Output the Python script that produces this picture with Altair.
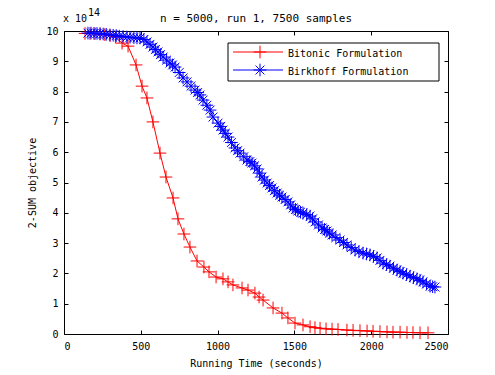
import altair as alt
import pandas as pd

# Bitonic Formulation (time in seconds, objective in units of 1e14)
red_t = [137, 169, 202, 234, 266, 300, 335, 378, 417, 469, 508, 540, 579, 625, 664,
         710, 742, 781, 820, 866, 911, 944, 990, 1035, 1068, 1100, 1159, 1198, 1243,
         1270, 1296, 1361, 1419, 1458, 1504, 1556, 1602, 1634, 1667, 1706, 1745, 1784,
         1842, 1882, 1927, 1973, 2012, 2057, 2103, 2142, 2188, 2233, 2272, 2318, 2370]
red_v = [9.92, 9.92, 9.91, 9.9, 9.88, 9.85, 9.8, 9.6, 9.5, 8.88, 8.18, 7.79, 7.0, 5.97, 5.18,
         4.49, 3.80, 3.30, 2.87, 2.41, 2.21, 2.05, 1.88, 1.82, 1.72, 1.62, 1.52, 1.45, 1.35,
         1.22, 1.12, 0.86, 0.69, 0.53, 0.36, 0.30, 0.24, 0.21, 0.19, 0.17, 0.16, 0.15,
         0.13, 0.12, 0.11, 0.10, 0.09, 0.08, 0.07, 0.06, 0.06, 0.05, 0.05, 0.04, 0.04]

# Birkhoff Formulation
blue_t = [156, 176, 195, 215, 235, 255, 275, 299, 320, 340, 360, 385, 410, 430, 455, 475,
          495, 520, 540, 560, 579, 595, 612, 628, 645, 668, 690, 707, 723, 750, 775, 801,
          827, 853, 870, 885, 905, 930, 951, 970, 1003, 1020, 1035, 1050, 1068, 1090, 1113,
          1130, 1146, 1170, 1191, 1210, 1224, 1240, 1257, 1273, 1289, 1305, 1322, 1338,
          1354, 1370, 1387, 1403, 1419, 1440, 1458, 1475, 1491, 1507, 1523, 1540, 1556,
          1580, 1602, 1618, 1634, 1657, 1680, 1696, 1712, 1728, 1745, 1770, 1797, 1820,
          1842, 1870, 1895, 1920, 1947, 1970, 1992, 2015, 2038, 2057, 2077, 2100, 2122,
          2145, 2168, 2188, 2207, 2230, 2253, 2275, 2298, 2318, 2337, 2360, 2383, 2400, 2415]
blue_v = [9.93, 9.93, 9.92, 9.92, 9.91, 9.9, 9.89, 9.87, 9.86, 9.85, 9.83, 9.82, 9.80, 9.79,
          9.78, 9.77, 9.77, 9.72, 9.64, 9.56, 9.47, 9.39, 9.31, 9.22, 9.14, 9.04, 8.94, 8.88,
          8.81, 8.63, 8.45, 8.32, 8.18, 8.05, 7.97, 7.89, 7.72, 7.55, 7.39, 7.16, 6.96, 6.85,
          6.73, 6.62, 6.50, 6.32, 6.14, 6.05, 5.97, 5.85, 5.74, 5.69, 5.64, 5.55, 5.45, 5.31,
          5.18, 5.08, 4.98, 4.90, 4.82, 4.73, 4.65, 4.58, 4.52, 4.44, 4.36, 4.26, 4.16, 4.11,
          4.06, 4.02, 3.99, 3.94, 3.89, 3.80, 3.70, 3.60, 3.50, 3.45, 3.40, 3.33, 3.27, 3.18,
          3.10, 3.02, 2.94, 2.85, 2.77, 2.72, 2.67, 2.64, 2.61, 2.56, 2.51, 2.43, 2.34, 2.29,
          2.24, 2.17, 2.11, 2.06, 2.01, 1.96, 1.91, 1.86, 1.82, 1.77, 1.72, 1.65, 1.58, 1.56,
          1.55]

x_ticks = [0, 500, 1000, 1500, 2000, 2500]
y_ticks = list(range(0, 11))
series_names = ["Bitonic Formulation", "Birkhoff Formulation"]
title_text = "n = 5000, run 1, 7500 samples"
x_title = "Running Time (seconds)"
y_title = "2-SUM objective"

W, H = 384, 303
FONT = "DejaVu Sans Mono"
PLUS = "M-1,0L1,0M0,-1L0,1"
STAR = "M-1,0L1,0M0,-1L0,1M-0.7,-0.7L0.7,0.7M-0.7,0.7L0.7,-0.7"
MSIZE = 160

red_df = pd.DataFrame({"t": red_t, "v": red_v})
blue_df = pd.DataFrame({"t": blue_t, "v": blue_v})
one = pd.DataFrame({"a": [0]})

xs = alt.Scale(domain=[0, 2500], nice=False, zero=False)
ys = alt.Scale(domain=[0, 10], nice=False, zero=False)

ax_bottom = alt.Axis(orient="bottom", values=x_ticks, format="d", ticks=False, domain=False,
                     grid=False, labelFont=FONT, labelFontSize=10, labelColor="black",
                     labelPadding=7, title=x_title, titleFont=FONT, titleFontSize=10,
                     titleFontWeight="normal", titleColor="black", titlePadding=7)
ay_left = alt.Axis(orient="left", values=y_ticks, format="d", ticks=False, domain=False,
                   grid=False, labelFont=FONT, labelFontSize=10, labelColor="black",
                   labelPadding=6, title=y_title, titleFont=FONT, titleFontSize=10,
                   titleFontWeight="normal", titleColor="black", titlePadding=8)
# inward ticks on the four sides of the box
ax_ticks_b = alt.Axis(orient="top", offset=-H, values=x_ticks, ticks=True, tickSize=4,
                      tickColor="black", labels=False, domain=False, grid=False, title=None)
ax_ticks_t = alt.Axis(orient="bottom", offset=-H, values=x_ticks, ticks=True, tickSize=4,
                      tickColor="black", labels=False, domain=False, grid=False, title=None)
ay_ticks_l = alt.Axis(orient="right", offset=-W, values=y_ticks, ticks=True, tickSize=4,
                      tickColor="black", labels=False, domain=False, grid=False, title=None)
ay_ticks_r = alt.Axis(orient="left", offset=-W, values=y_ticks, ticks=True, tickSize=4,
                      tickColor="black", labels=False, domain=False, grid=False, title=None)

red_line = alt.Chart(red_df).mark_line(color="red", strokeWidth=1).encode(
    x=alt.X("t:Q", scale=xs, axis=ax_bottom),
    y=alt.Y("v:Q", scale=ys, axis=ay_left),
)
red_pts = alt.Chart(red_df).mark_point(shape=PLUS, filled=False, size=MSIZE, color="red",
                                       strokeWidth=1, opacity=1).encode(
    x=alt.X("t:Q", scale=xs, axis=ax_ticks_b),
    y=alt.Y("v:Q", scale=ys, axis=ay_ticks_l),
)
blue_line = alt.Chart(blue_df).mark_line(color="blue", strokeWidth=1).encode(
    x=alt.X("t:Q", scale=xs, axis=ax_ticks_t),
    y=alt.Y("v:Q", scale=ys, axis=ay_ticks_r),
)
blue_pts = alt.Chart(blue_df).mark_point(shape=STAR, filled=False, size=MSIZE, color="blue",
                                         strokeWidth=1, opacity=1).encode(
    x=alt.X("t:Q", scale=xs, axis=None),
    y=alt.Y("v:Q", scale=ys, axis=None),
)

# legend
leg_box = alt.Chart(one).mark_rect(fill="white", stroke="black", strokeWidth=1).encode(
    x=alt.value(164), x2=alt.value(375), y=alt.value(12), y2=alt.value(50))
leg_red_line = alt.Chart(one).mark_rule(color="red", strokeWidth=1).encode(
    x=alt.value(169), x2=alt.value(219), y=alt.value(21))
leg_blue_line = alt.Chart(one).mark_rule(color="blue", strokeWidth=1).encode(
    x=alt.value(169), x2=alt.value(219), y=alt.value(39))
leg_red_pt = alt.Chart(one).mark_point(shape=PLUS, filled=False, size=MSIZE, color="red",
                                       strokeWidth=1, opacity=1).encode(
    x=alt.value(196), y=alt.value(21))
leg_blue_pt = alt.Chart(one).mark_point(shape=STAR, filled=False, size=MSIZE, color="blue",
                                        strokeWidth=1, opacity=1).encode(
    x=alt.value(196), y=alt.value(39))
leg_red_txt = alt.Chart(one).mark_text(text=series_names[0], font=FONT, fontSize=10,
                                       align="left", baseline="middle", color="black").encode(
    x=alt.value(224), y=alt.value(23))
leg_blue_txt = alt.Chart(one).mark_text(text=series_names[1], font=FONT, fontSize=10,
                                        align="left", baseline="middle", color="black").encode(
    x=alt.value(224), y=alt.value(41))

title_mark = alt.Chart(one).mark_text(text=title_text, font=FONT, fontSize=11,
                                      align="center", baseline="middle", color="black").encode(
    x=alt.value(W / 2), y=alt.value(-12))
exp_base = alt.Chart(one).mark_text(text="x 10", font=FONT, fontSize=10,
                                    align="left", baseline="middle", color="black").encode(
    x=alt.value(-1), y=alt.value(-12))
exp_pow = alt.Chart(one).mark_text(text="14", font=FONT, fontSize=10,
                                   align="left", baseline="middle", color="black").encode(
    x=alt.value(24), y=alt.value(-18))

chart = alt.layer(
    red_line, red_pts, blue_line, blue_pts,
    leg_box, leg_red_line, leg_blue_line, leg_red_pt, leg_blue_pt, leg_red_txt, leg_blue_txt,
    title_mark, exp_base, exp_pow,
).resolve_axis(x="independent", y="independent").properties(
    width=W, height=H,
    autosize=alt.AutoSizeParams(type="none"),
    padding={"left": 56, "top": 23, "right": 30, "bottom": 40},
    background="white",
).configure_view(stroke="black", strokeWidth=1)

chart.save("out.html", embed_options={"renderer": "svg", "actions": False})
